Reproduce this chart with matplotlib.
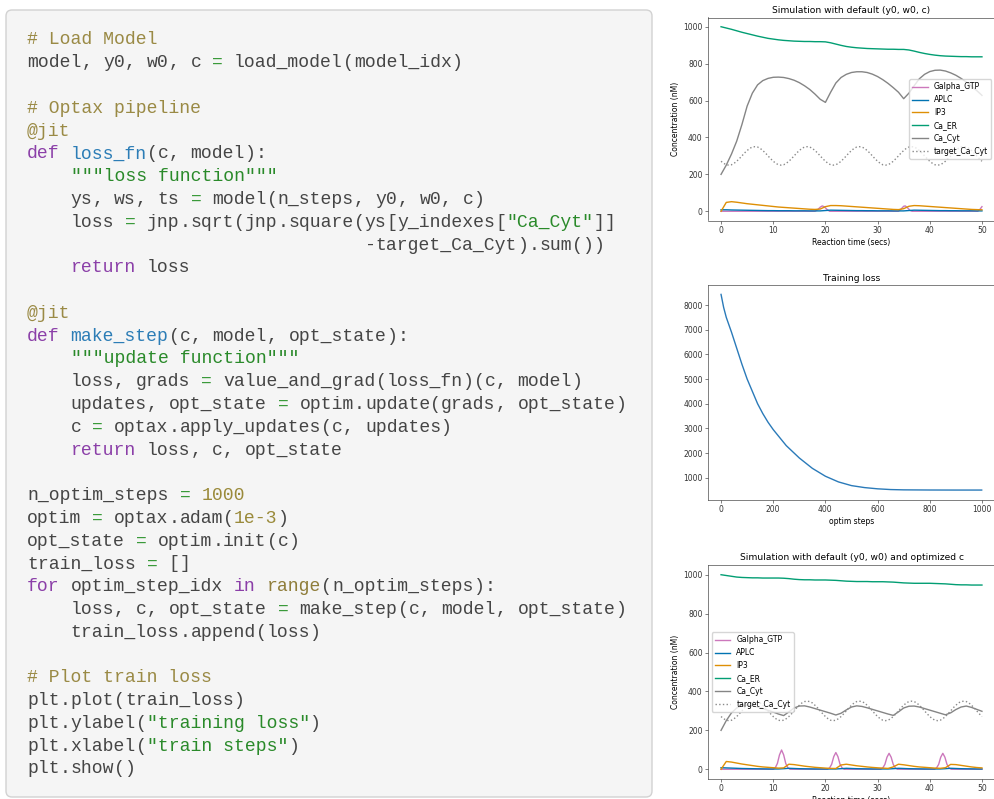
import re
import matplotlib
matplotlib.use("Agg")
import matplotlib.pyplot as plt
import matplotlib.patches as patches
import numpy as np

### code cell on the left
code_lines = [
    '# Load Model',
    'model, y0, w0, c = load_model(model_idx)',
    '',
    '# Optax pipeline',
    '@jit',
    'def loss_fn(c, model):',
    '    """loss function"""',
    '    ys, ws, ts = model(n_steps, y0, w0, c)',
    '    loss = jnp.sqrt(jnp.square(ys[y_indexes["Ca_Cyt"]]',
    '                               -target_Ca_Cyt).sum())',
    '    return loss',
    '',
    '@jit',
    'def make_step(c, model, opt_state):',
    '    """update function"""',
    '    loss, grads = value_and_grad(loss_fn)(c, model)',
    '    updates, opt_state = optim.update(grads, opt_state)',
    '    c = optax.apply_updates(c, updates)',
    '    return loss, c, opt_state',
    '',
    'n_optim_steps = 1000',
    'optim = optax.adam(1e-3)',
    'opt_state = optim.init(c)',
    'train_loss = []',
    'for optim_step_idx in range(n_optim_steps):',
    '    loss, c, opt_state = make_step(c, model, opt_state)',
    '    train_loss.append(loss)',
    '',
    '# Plot train loss',
    'plt.plot(train_loss)',
    'plt.ylabel("training loss")',
    'plt.xlabel("train steps")',
    'plt.show()',
]

### time axes of the simulations
t_sec = np.arange(0, 51)
t_half = np.arange(0, 50.5, 0.5)

### target (same in both simulation plots), 0.5 s grid
target_ca_cyt = [
    271, 260, 252, 250, 252, 260, 271, 285, 300, 316, 329, 341, 348, 350, 348, 341, 329, 316, 300, 285,
    271, 260, 252, 250, 252, 260, 271, 285, 300, 316, 329, 341, 348, 350, 348, 341, 329, 316, 300, 285,
    271, 260, 252, 250, 252, 260, 271, 285, 300, 316, 329, 341, 348, 350, 348, 341, 329, 316, 300, 285,
    271, 260, 252, 250, 252, 260, 271, 285, 300, 316, 329, 341, 348, 350, 348, 341, 329, 316, 300, 285,
    271, 260, 252, 250, 252, 260, 271, 285, 300, 316, 329, 341, 348, 350, 348, 341, 329, 316, 300, 285,
    271,
]

### simulation with default (y0, w0, c)
ca_er_default = [
    1000, 993, 986, 978, 970, 963, 956, 949, 943, 937,
    933, 929, 926, 924, 922, 921, 920, 920, 919, 919,
    918, 913, 906, 899, 893, 889, 886, 884, 882, 881,
    880, 879, 878, 878, 877, 877, 874, 868, 861, 855,
    850, 846, 843, 841, 840, 839, 838, 838, 837, 837, 837,
]
ca_cyt_default = [
    200, 250, 310, 380, 470, 570, 640, 685, 708, 720,
    726, 727, 725, 719, 710, 697, 680, 660, 635, 607,
    590, 645, 695, 725, 742, 752, 756, 756, 752, 743,
    730, 713, 693, 670, 645, 610, 640, 680, 718, 742,
    757, 764, 765, 760, 750, 737, 720, 700, 678, 654, 628,
]
ip3_default = [
    0, 48, 52, 49, 45, 41, 38, 35, 32, 29,
    26, 23, 21, 19, 17, 15, 13, 11, 10, 12,
    25, 31, 31, 30, 28, 26, 24, 22, 20, 18,
    16, 14, 12, 10, 9, 14, 27, 31, 30, 28,
    26, 24, 22, 20, 18, 16, 14, 12, 10, 9, 8,
]
aplc_default = [
    8, 8, 7, 6.5, 6, 5.5, 5, 4.5, 4, 3.5,
    3.5, 3, 3, 3, 2.5, 2.5, 2.5, 2, 2, 2,
    4, 6, 5.5, 5, 4.5, 4, 3.5, 3.5, 3, 3,
    2.5, 2.5, 2.5, 2, 2, 2, 4, 6, 5.5, 5,
    4.5, 4, 3.5, 3.5, 3, 3, 2.5, 2.5, 2.5, 2, 2,
]
galpha_default_t = [0, 18.0, 18.5, 19.0, 19.4, 19.8, 20.3, 20.8, 34.0, 34.5, 35.0, 35.3, 35.7, 36.2, 36.6, 49.2, 49.6, 50.0]
galpha_default = [0, 0, 8, 22, 29, 24, 10, 0, 0, 12, 27, 29, 20, 5, 0, 0, 10, 25]

### training loss
loss_steps = [0, 10, 20, 40, 60, 80, 100, 120, 140, 160, 180, 200, 250, 300, 350,
              400, 450, 500, 550, 600, 650, 700, 800, 900, 999]
loss_values = [8430, 7900, 7500, 6900, 6250, 5600, 5000, 4500, 4000, 3600, 3250, 2950, 2300, 1800, 1380,
               1060, 830, 680, 600, 550, 520, 508, 502, 500, 500]

### simulation with default (y0, w0) and optimized c
ca_er_opt = [
    1000, 996, 992, 988, 986, 985, 984, 984, 983, 983,
    983, 983, 982, 980, 977, 975, 974, 974, 973, 973,
    973, 972, 971, 969, 967, 966, 965, 965, 965, 964,
    964, 964, 963, 962, 960, 958, 957, 956, 956, 956,
    956, 955, 954, 953, 951, 949, 948, 948, 947, 947, 947,
]
ca_cyt_opt = [
    200, 250, 290, 315, 328, 330, 326, 320, 312, 303,
    294, 284, 276, 295, 315, 325, 326, 320, 312, 304,
    296, 288, 279, 288, 305, 320, 326, 323, 316, 308,
    300, 292, 284, 277, 295, 315, 324, 325, 320, 312,
    304, 296, 288, 280, 290, 307, 320, 325, 318, 308, 298,
]
ip3_opt = [
    0, 40, 37, 32, 27, 23, 19, 15, 12, 10,
    8, 6, 7, 26, 24, 20, 16, 13, 10, 8,
    6, 4.5, 4, 22, 26, 22, 18, 15, 12, 9.5,
    7.5, 6, 4.5, 12, 26, 23, 19, 15, 12, 10,
    8, 6, 5, 8, 25, 24, 20, 16, 12, 9, 7,
]
aplc_opt = [
    8, 7, 6, 5, 4, 3.5, 3, 2.5, 2, 1.5,
    1.5, 1.5, 3, 5, 4, 3, 2.5, 2, 1.5, 1.5,
    1.5, 1.5, 1.5, 3, 5, 4, 3, 2.5, 2, 1.5,
    1.5, 1.5, 1.5, 3, 5, 4, 3, 2.5, 2, 1.5,
    1.5, 1.5, 1.5, 3, 5, 4, 3, 2.5, 2, 1.5, 1.5,
]
galpha_opt_t = [0, 10.0, 10.4, 10.8, 11.2, 11.6, 12.0, 12.4, 12.8, 13.2,
                20.4, 20.8, 21.2, 21.6, 22.0, 22.4, 22.8, 23.2, 23.6,
                30.6, 31.0, 31.4, 31.8, 32.2, 32.6, 33.0, 33.4, 33.8,
                40.9, 41.3, 41.7, 42.1, 42.5, 42.9, 43.3, 43.7, 44.1, 50]
galpha_opt = [0, 0, 8, 30, 74, 99, 74, 30, 8, 0,
              0, 7, 26, 65, 86, 65, 26, 7, 0,
              0, 7, 25, 62, 82, 62, 25, 7, 0,
              0, 7, 25, 62, 82, 62, 25, 7, 0, 0]

series_names = ["Galpha_GTP", "APLC", "IP3", "Ca_ER", "Ca_Cyt", "target_Ca_Cyt"]
series_colors = ["#cc78bc", "#0173b2", "#de8f05", "#029e73", "#858585", "#8a8a8a"]

W, H = 994, 799
fig = plt.figure(figsize=(W / 100, H / 100), dpi=100)

### code panel, in pixel coords
ax_code = fig.add_axes([0, 0, 1, 1])
ax_code.set_xlim(0, W)
ax_code.set_ylim(H, 0)
ax_code.axis("off")
box = patches.FancyBboxPatch((6, 10), 646, 787, boxstyle="round,pad=0,rounding_size=6",
                             fc="#f5f5f5", ec="#d2d2d2", lw=1)
ax_code.add_patch(box)

code_colors = {
    "comment": "#9a8a45", "string": "#2a8a2a", "deco": "#9a8a45", "kw": "#8b3fa8",
    "builtin": "#8f7d3a", "num": "#9a8a3a", "op": "#3a9a3a", "func": "#2c7db6",
    "name": "#454545", "other": "#454545",
}
token_re = re.compile(r'(?P<comment>#.*)|(?P<string>"""[^"]*"""|"[^"]*")|(?P<deco>@\w+)'
                      r'|(?P<kw>\b(?:def|for|in|return)\b)|(?P<builtin>\brange\b)'
                      r'|(?P<num>\b\d+(?:e-\d+)?\b)|(?P<op>=)|(?P<name>\w+)|(?P<other>.)')
x0, y0_line, cw, lh = 27, 40, 10.9, 22.78
mono = "Liberation Mono"
for i, line in enumerate(code_lines):
    prev = None
    for m in token_re.finditer(line):
        kind = m.lastgroup
        text = m.group()
        if kind == "name" and prev == "def":
            kind = "func"
        if text.strip():
            ax_code.text(x0 + m.start() * cw, y0_line + i * lh, text, color=code_colors[kind],
                         family=mono, fontsize=13.05, ha="left", va="center")
            prev = text

### plots on the right
s = 0.55
plt.rcParams.update({
    "font.size": 10 * s,
    "axes.linewidth": 0.8 * s,
    "xtick.major.size": 3.5 * s, "ytick.major.size": 3.5 * s,
    "xtick.major.width": 0.8 * s, "ytick.major.width": 0.8 * s,
    "xtick.major.pad": 3.5 * s, "ytick.major.pad": 3.5 * s,
    "axes.titlepad": 6 * s, "axes.labelpad": 4 * s,
    "axes.edgecolor": "#333333",
    "xtick.color": "#333333", "ytick.color": "#333333",
})
lw = 1.0

def sim_plot(rect, title, galpha_t, galpha, aplc, ip3, ca_er, ca_cyt, legend_loc):
    ax = fig.add_axes(rect)
    ax.plot(galpha_t, galpha, color=series_colors[0], lw=lw, label=series_names[0])
    ax.plot(t_sec, aplc, color=series_colors[1], lw=lw, label=series_names[1])
    ax.plot(t_sec, ip3, color=series_colors[2], lw=lw, label=series_names[2])
    ax.plot(t_sec, ca_er, color=series_colors[3], lw=lw, label=series_names[3])
    ax.plot(t_sec, ca_cyt, color=series_colors[4], lw=lw, label=series_names[4])
    ax.plot(t_half, target_ca_cyt, color=series_colors[5], lw=lw, ls=":", label=series_names[5])
    ax.set_ylim(-50, 1050)
    ax.set_xlim(-2.5, 52.5)
    ax.set_title(title, fontsize=12 * s)
    ax.set_xlabel("Reaction time (secs)")
    ax.set_ylabel("Concentration (nM)")
    ax.legend(loc=legend_loc)
    return ax

sim_plot([708 / W, 1 - 220.5 / H, 287 / W, 203 / H], "Simulation with default (y0, w0, c)",
         galpha_default_t, galpha_default, aplc_default, ip3_default, ca_er_default, ca_cyt_default,
         "center right")

ax_loss = fig.add_axes([708 / W, 1 - 499.8 / H, 287 / W, 214.4 / H])
ax_loss.plot(loss_steps, loss_values, color="#2a7ab9", lw=lw)
ax_loss.set_xlim(-50, 1050)
ax_loss.set_ylim(105, 8795)
ax_loss.set_title("Training loss", fontsize=12 * s)
ax_loss.set_xlabel("optim steps")

sim_plot([708 / W, 1 - 779 / H, 287 / W, 214 / H], "Simulation with default (y0, w0) and optimized c",
         galpha_opt_t, galpha_opt, aplc_opt, ip3_opt, ca_er_opt, ca_cyt_opt,
         "center left")

fig.savefig("out.png", dpi=100)
